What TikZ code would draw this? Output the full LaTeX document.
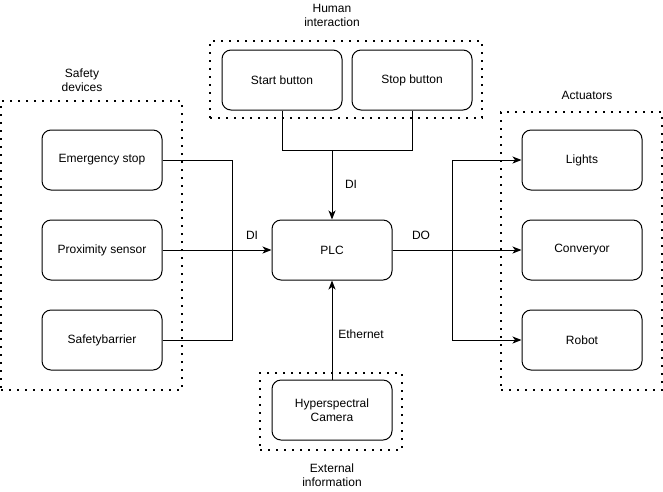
\documentclass[tikz,border=0pt]{standalone}
\usepackage{fontspec}
\setmainfont{Liberation Sans}
\usetikzlibrary{arrows.meta}
\begin{document}
\begin{tikzpicture}[x=1pt,y=-1pt,
  font=\fontsize{12}{14}\selectfont,
  block/.style={draw, line width=1pt, rounded corners=9pt, minimum width=120pt,
    minimum height=60pt, align=center, inner sep=0pt},
  group/.style={draw, line width=1.6pt, dash pattern=on 1.6pt off 6.4pt,
    inner sep=0pt},
  lbl/.style={align=center, inner sep=0pt},
  wire/.style={line width=1pt},
  arrow/.style={wire, -{Stealth[length=9pt,width=7pt,inset=2.5pt]}}]
\useasboundingbox (0,0) rectangle (663,491);

% dotted group frames
\node[group, minimum width=181pt, minimum height=289pt] (safetygrp) at (91.5,245.5) {};
\node[group, minimum width=272pt, minimum height=77pt] (humangrp) at (346,79.5) {};
\node[group, minimum width=161pt, minimum height=278pt] (actgrp) at (581.5,251) {};
\node[group, minimum width=142pt, minimum height=77pt] (extgrp) at (331,411.5) {};

% group captions
\node[lbl] (safetylbl) at (82,80) {Safety\\devices};
\node[lbl] (humanlbl) at (332,15) {Human\\interaction};
\node[lbl] (actlbl) at (587,95) {Actuators};
\node[lbl] (extlbl) at (332,475) {External\\information};

% blocks
\node[block] (estop) at (102,160) {Emergency stop};
\node[block] (prox) at (102,250) {Proximity sensor};
\node[block] (barrier) at (102,340) {Safetybarrier};
\node[block] (start) at (282,80) {Start button};
\node[block] (stop) at (412,80) {Stop button};
\node[block] (plc) at (332,250) {PLC};
\node[block] (lights) at (582,160) {Lights};
\node[block] (conv) at (582,250) {Converyor};
\node[block] (robot) at (582,340) {Robot};
\node[block] (cam) at (332,410) {Hyperspectral\\Camera};

% junction points
\coordinate (hjoin) at (332,150);
\coordinate (sjoin) at (232,250);
\coordinate (ajoin) at (452,250);

% human interaction -> PLC
\draw[wire] (start.south) |- (hjoin);
\draw[wire] (stop.south) |- (hjoin);
\draw[arrow] (hjoin) -- (plc.north);

% safety devices -> PLC
\draw[wire] (estop.east) -| (sjoin);
\draw[wire] (barrier.east) -| (sjoin);
\draw[arrow] (prox.east) -- (plc.west);

% PLC -> actuators
\draw[arrow] (plc.east) -- (conv.west);
\draw[arrow] (ajoin) |- (lights.west);
\draw[arrow] (ajoin) |- (robot.west);

% camera -> PLC
\draw[arrow] (cam.north) -- (plc.south);

% signal labels
\node[lbl] (dileft) at (252,235) {DI};
\node[lbl] (ditop) at (351,184) {DI};
\node[lbl] (do) at (421,235) {DO};
\node[lbl] (eth) at (361,334) {Ethernet};
\end{tikzpicture}
\end{document}
